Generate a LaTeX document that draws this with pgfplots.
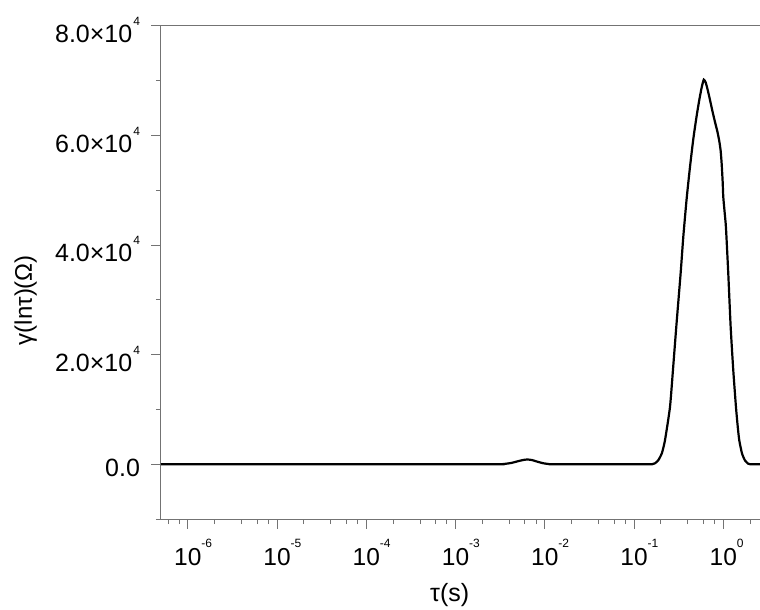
\documentclass[border=0pt]{standalone}
\usepackage{fontspec}
\setmainfont{Liberation Sans}
\usepackage{pgfplots}
\pgfplotsset{compat=1.18}
\newcommand{\xsup}[1]{\rlap{\raisebox{18pt}{\fontsize{12}{12}\selectfont #1}}}
\newcommand{\ysup}[1]{\kern1pt\raisebox{17pt}{\fontsize{12}{12}\selectfont #1}}
\begin{document}
\begin{tikzpicture}
\begin{axis}[
  scale only axis, width=599pt, height=493pt,
  at={(0,0)}, anchor=south west,
  xmode=log, xmin=5e-7, xmax=2.58,
  ymin=-10000, ymax=80000,
  scaled y ticks=false,
  axis lines=left, axis line style={-, draw=black!55, line width=1pt},
  tick style={draw=black!55, line width=1pt},
  tick align=outside, tick pos=left,
  major tick length=9.5pt, minor tick length=5pt,
  xtick={1e-6,1e-5,1e-4,1e-3,1e-2,1e-1,1},
  xticklabels={10\xsup{-6},10\xsup{-5},10\xsup{-4},10\xsup{-3},10\xsup{-2},10\xsup{-1},10\xsup{0}},
  minor xtick={6e-7,8e-7,2e-6,4e-6,6e-6,8e-6,2e-5,4e-5,6e-5,8e-5,2e-4,4e-4,6e-4,8e-4,2e-3,4e-3,6e-3,8e-3,2e-2,4e-2,6e-2,8e-2,0.2,0.4,0.6,0.8,2},
  ytick={0,20000,40000,60000,80000},
  yticklabels={0.0,2.0×10\ysup{4},4.0×10\ysup{4},6.0×10\ysup{4},8.0×10\ysup{4}},
  minor ytick={-10000,10000,30000,50000,70000},
  xticklabel style={font=\fontsize{24.5}{28}\selectfont, text=black, yshift=-7pt},
  yticklabel style={font=\fontsize{25}{28}\selectfont, text=black, xshift=-8pt, yshift=-4pt},
  xlabel={τ(s)}, ylabel={γ(lnτ)(Ω)},
  xlabel style={font=\fontsize{25}{30}\selectfont, at={(axis description cs:0.482,-0.154)}, anchor=center},
  ylabel style={font=\fontsize{24}{28}\selectfont, at={(axis description cs:-0.226,0.444)}, anchor=center},
  clip=false,
]
\addplot[black, line width=2.2pt, smooth, tension=0.35] coordinates {
(5e-7,0) (1e-4,0) (2.9e-3,0) (3.5e-3,50) (4.2e-3,230) (5.1e-3,580) (5.8e-3,790) (6.4e-3,860) (7.2e-3,760)
(8.3e-3,450) (9.6e-3,180) (1.1e-2,40) (1.3e-2,0) (0.14,0)
(0.158,0) (0.172,180) (0.187,730) (0.205,2000) (0.2223,4380) (0.253,10470)
(0.2754,18000) (0.3006,26000) (0.3334,35000) (0.3565,41500) (0.389,48500)
(0.424,54300) (0.461,59300) (0.5,63300) (0.54,66600)
(0.575,68900) (0.605,70200) (0.635,69700) (0.67,68300) (0.71,66500)
(0.76,64300) (0.807,62500) (0.86,60700) (0.902,59000) (0.935,57200)
(0.96,54800) (0.985,51500) (1.0,48800) (1.036,46000) (1.072,43200)
(1.138,34800) (1.21,25100) (1.294,17200) (1.387,10500) (1.45,7000)
(1.51,4400) (1.62,2000) (1.75,700) (1.9,100) (2.0,0) (2.58,0)
};
\draw[black!55, line width=1pt] ([xshift=-9.5pt]rel axis cs:0,1) -- (rel axis cs:1,1);
\end{axis}
\pgfresetboundingbox
\path[use as bounding box] (-161pt,-91pt) rectangle (599pt,519pt);
\end{tikzpicture}
\end{document}
